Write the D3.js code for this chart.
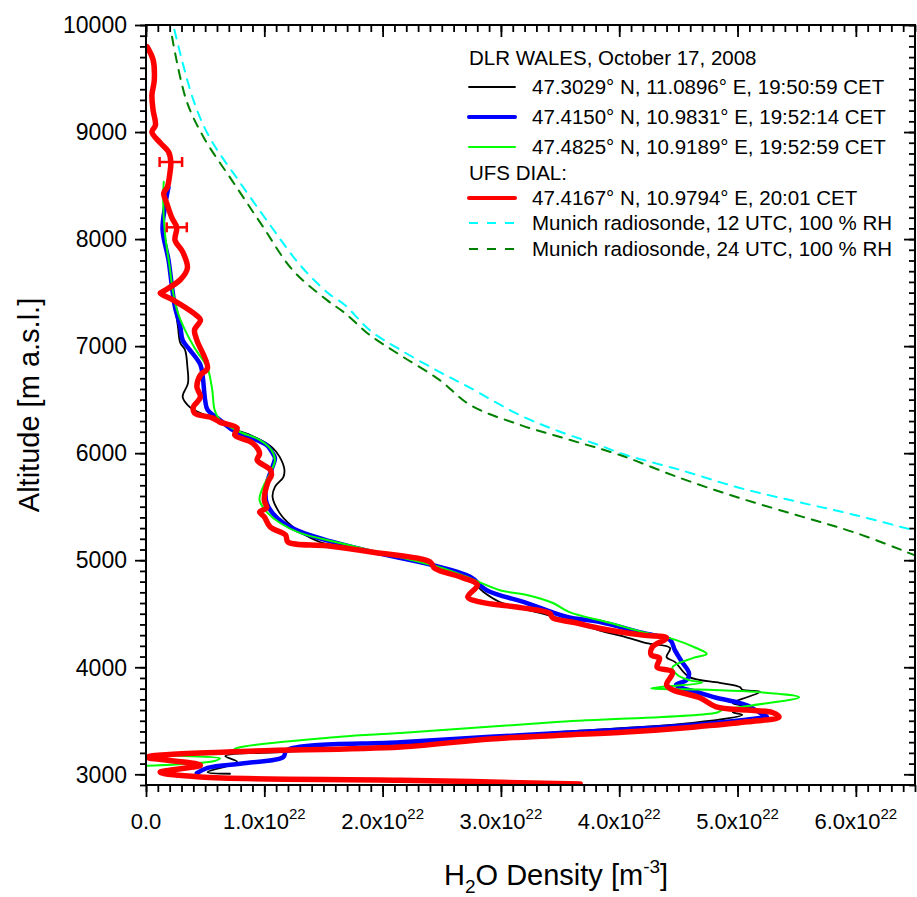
<!DOCTYPE html>
<html>
<head>
<meta charset="utf-8">
<script src="https://cdn.jsdelivr.net/npm/d3@7"></script>
<style>
  body { margin: 0; background: #fff; }
  svg { font-family: Arial, "Liberation Sans", sans-serif; }
</style>
</head>
<body>
<div id="chart-area"></div>
<script>

// H2O density in units of 1e22 m^-3, altitude in m a.s.l.
var wales1950 = [[0.18,8440],[0.15,8250],[0.15,8050],[0.19,7800],[0.23,7500],[0.27,7180],[0.29,7030],[0.33,6965],
  [0.35,6805],[0.355,6655],[0.31,6525],[0.37,6430],[0.46,6375],[0.60,6310],[0.71,6235],[0.88,6170],[1.07,6050],
  [1.13,5965],[1.17,5845],[1.16,5775],[1.09,5685],[1.07,5590],[1.13,5440],[1.20,5350],[1.30,5265],[1.47,5170],
  [1.92,5075],[2.42,4955],[2.74,4815],[2.85,4705],[2.99,4610],[3.39,4490],[3.61,4420],[3.83,4345],[4.06,4280],
  [4.23,4225],[4.43,4180],[4.40,4095],[4.47,4050],[4.59,3910],[4.85,3855],[5.02,3815],[5.04,3790],[5.19,3770],
  [5.08,3720],[4.96,3665],[5.08,3630],[4.96,3580],[5.04,3555],[4.62,3480],[3.50,3395],[2.91,3340],[1.92,3255],
  [1.19,3210],[0.67,3170],[0.77,3115],[0.52,3020],[0.71,3005]];

var wales1952a = [[0.19,8485],[0.16,8300],[0.14,8085],[0.19,7805],[0.22,7550],[0.245,7365],[0.29,7180],[0.31,7055],
  [0.37,6965],[0.46,6825],[0.48,6710],[0.50,6495],[0.52,6405],[0.625,6310],[0.735,6215],[0.88,6150],[1.02,6075],
  [1.07,6000],[1.09,5955],[1.06,5845],[1.03,5750],[1.01,5630],[1.02,5535],[1.07,5440],[1.16,5350],[1.33,5255],
  [1.58,5170],[1.92,5075],[2.42,4955],[2.74,4845],[2.88,4720],[3.22,4600],[3.56,4470],[3.83,4425],[4.20,4320],
  [4.43,4255],[4.47,4160],[4.53,4050],[4.59,3945],[4.57,3880],[4.48,3835],[4.68,3760],[4.82,3715],[4.99,3675],
  [5.08,3645],[5.19,3575],[5.25,3535],[5.19,3525],[4.62,3460],[3.50,3385],[2.91,3350],[2.15,3300],[1.19,3225],
  [1.16,3160],[0.85,3105],[0.52,3060],[0.43,3010]];

var wales1952b = [[0.15,8535],[0.145,8365],[0.16,8055],[0.20,7740],[0.23,7495],[0.27,7310],[0.33,7150],[0.41,6985],
  [0.44,6935],[0.52,6795],[0.56,6590],[0.58,6405],[0.625,6310],[0.79,6200],[0.96,6125],[1.06,6030],[1.09,5935],
  [1.05,5815],[0.99,5685],[0.96,5560],[1.03,5440],[1.13,5350],[1.30,5255],[1.64,5160],[2.06,5050],[2.48,4935],
  [2.71,4845],[2.99,4720],[3.22,4675],[3.44,4600],[3.58,4515],[3.92,4415],[4.23,4320],[4.45,4265],[4.65,4180],
  [4.74,4125],[4.62,4085],[4.45,4000],[4.49,3930],[4.59,3880],[4.70,3855],[4.27,3805],[4.75,3790],[5.16,3770],
  [5.52,3720],[5.13,3645],[4.87,3600],[4.82,3575],[3.50,3490],[2.15,3385],[1.64,3350],[0.77,3245],[0.71,3210],
  [0.15,3180],[0.625,3150],[0.58,3125],[0.01,3080]];

var dial = [[0.01,9795],[0.06,9675],[0.07,9485],[0.05,9345],[0.06,9205],[0.08,9065],[0.05,9000],[0.12,8900],
  [0.19,8815],[0.21,8720],[0.20,8600],[0.18,8485],[0.15,8430],[0.18,8320],[0.22,8195],[0.26,8110],[0.245,7990],
  [0.31,7880],[0.35,7730],[0.29,7620],[0.135,7505],[0.12,7495],[0.23,7430],[0.40,7310],[0.46,7245],[0.41,7150],
  [0.43,7055],[0.52,6795],[0.46,6730],[0.43,6620],[0.46,6525],[0.40,6430],[0.41,6375],[0.56,6330],[0.625,6290],
  [0.77,6235],[0.75,6170],[0.90,6095],[0.96,6000],[0.94,5935],[1.05,5845],[1.06,5795],[1.03,5730],[1.00,5560],
  [1.02,5490],[0.96,5450],[1.00,5405],[1.05,5310],[1.18,5235],[1.20,5170],[1.53,5135],[1.92,5075],[2.40,4985],
  [2.44,4925],[2.68,4835],[2.80,4770],[2.72,4655],[2.82,4610],[3.18,4555],[3.41,4505],[3.44,4460],[3.61,4420],
  [3.83,4365],[4.20,4300],[4.40,4275],[4.28,4190],[4.27,4115],[4.34,4085],[4.32,4000],[4.45,3955],[4.40,3835],
  [4.45,3790],[4.68,3715],[4.82,3630],[5.08,3600],[5.30,3575],[5.35,3535],[5.08,3490],[4.62,3440],[4.06,3395],
  [3.50,3365],[2.91,3330],[2.15,3255],[0.73,3210],[0.01,3160],[0.46,3085],[0.12,3020],[0.46,2975],[2.15,2945],
  [3.67,2910]];

// DIAL error bars: [density, altitude, half width]
var dialErr = [[0.21,8720,0.095],[0.26,8110,0.085]];

var sonde12 = [[0.24,9955],[0.40,9300],[0.54,8945],[0.79,8535],[1.05,8130],[1.30,7760],[1.54,7495],[1.68,7385],
  [1.89,7150],[2.15,6965],[2.48,6760],[2.74,6610],[3.16,6355],[3.50,6200],[3.83,6075],[4.05,5985],[4.51,5845],
  [5.02,5675],[5.55,5535],[6.00,5420],[6.49,5280],[6.6,5250]];

var sonde24 = [[0.22,9890],[0.34,9300],[0.49,8945],[0.735,8535],[0.98,8130],[1.24,7710],[1.53,7430],[1.68,7310],
  [1.89,7105],[2.15,6915],[2.48,6685],[2.74,6450],[3.16,6265],[3.58,6125],[4.00,5985],[4.51,5770],[5.02,5580],
  [5.55,5405],[6.00,5255],[6.49,5050],[6.6,5000]];

var xMajor = [0, 1, 2, 3, 4, 5, 6];
var yMajor = [3000, 4000, 5000, 6000, 7000, 8000, 9000, 10000];

var legendTitle1 = "DLR WALES, October 17, 2008";
var legendTitle2 = "UFS DIAL:";
var legendLabels = [
  "47.3029° N, 11.0896° E, 19:50:59 CET",
  "47.4150° N, 10.9831° E, 19:52:14 CET",
  "47.4825° N, 10.9189° E, 19:52:59 CET",
  "47.4167° N, 10.9794° E, 20:01 CET",
  "Munich radiosonde, 12 UTC, 100 % RH",
  "Munich radiosonde, 24 UTC, 100 % RH"
];

var margin = {top: 25, right: 2, bottom: 112, left: 146},
    width = 917 - margin.left - margin.right,
    height = 897 - margin.top - margin.bottom;

var svg = d3.select("#chart-area")
    .append("svg")
        .attr("width", 917)
        .attr("height", 897);

svg.append("rect").attr("width", 917).attr("height", 897).attr("fill", "#fff");

var g = svg.append("g")
        .attr("transform", "translate(" + margin.left + "," + margin.top + ")");

var xScale = d3.scaleLinear().domain([0, 6.5]).range([0, width]);
var yScale = d3.scaleLinear().domain([2900, 10000]).range([height, 0]);

g.append("clipPath").attr("id", "plot-clip")
  .append("rect").attr("width", width).attr("height", height);

var xMinor = d3.range(0, 66).map(function(i) { return i / 10; });
var yMinor = d3.range(29, 101).map(function(i) { return i * 100; });

function styleAxis(sel) {
  sel.select(".domain").remove();
  sel.selectAll(".tick line").attr("stroke", "#000").attr("stroke-width", 1.8);
}

// bottom
g.append("g").attr("transform", "translate(0," + height + ")")
  .call(d3.axisBottom(xScale).tickValues(xMinor).tickSize(7).tickFormat(""))
  .call(styleAxis);
g.append("g").attr("transform", "translate(0," + height + ")")
  .call(d3.axisBottom(xScale).tickValues(xMajor).tickSize(12).tickFormat(""))
  .call(styleAxis);
// top (inward)
g.append("g").call(d3.axisBottom(xScale).tickValues(xMinor).tickSize(7).tickFormat("")).call(styleAxis);
g.append("g").call(d3.axisBottom(xScale).tickValues(xMajor).tickSize(12).tickFormat("")).call(styleAxis);
// left
g.append("g").call(d3.axisLeft(yScale).tickValues(yMinor).tickSize(6).tickFormat("")).call(styleAxis);
g.append("g").call(d3.axisLeft(yScale).tickValues(yMajor).tickSize(11).tickFormat("")).call(styleAxis);
// right (inward)
g.append("g").attr("transform", "translate(" + width + ",0)")
  .call(d3.axisLeft(yScale).tickValues(yMinor).tickSize(6).tickFormat("")).call(styleAxis);
g.append("g").attr("transform", "translate(" + width + ",0)")
  .call(d3.axisLeft(yScale).tickValues(yMajor).tickSize(11).tickFormat("")).call(styleAxis);

// tick labels
g.selectAll(".ylab").data(yMajor).enter().append("text")
  .attr("x", -19).attr("y", function(d) { return yScale(d); })
  .attr("dy", "0.36em").attr("text-anchor", "end")
  .attr("font-size", 23).text(function(d) { return d; });

var xl = g.selectAll(".xlab").data(xMajor).enter().append("text")
  .attr("x", function(d) { return xScale(d); }).attr("y", height + 44)
  .attr("text-anchor", "middle").attr("font-size", 22);
xl.each(function(d) {
  var t = d3.select(this);
  if (d === 0) { t.text("0.0"); return; }
  t.append("tspan").text(d.toFixed(1) + "x10");
  t.append("tspan").attr("font-size", 15).attr("dy", -10).text("22");
});

// axis titles
var xt = svg.append("text").attr("x", margin.left + xScale(3.5) - 4).attr("y", 885)
  .attr("text-anchor", "middle").attr("font-size", 29);
xt.append("tspan").text("H");
xt.append("tspan").attr("font-size", 19).attr("dy", 8).text("2");
xt.append("tspan").attr("dy", -8).text("O Density [m");
xt.append("tspan").attr("font-size", 19).attr("dy", -12).text("-3");
xt.append("tspan").attr("dy", 12).text("]");

svg.append("text")
  .attr("transform", "translate(39," + (margin.top + height / 2) + ") rotate(-90)")
  .attr("text-anchor", "middle").attr("font-size", 29)
  .text("Altitude [m a.s.l.]");

// lines
var line = d3.line()
  .x(function(d) { return xScale(d[0]); })
  .y(function(d) { return yScale(d[1]); })
  .curve(d3.curveCatmullRom.alpha(0.5));

var plot = g.append("g").attr("clip-path", "url(#plot-clip)");

var series = [
  {data: sonde12, color: "#00ffff", w: 2, dash: "9,8"},
  {data: sonde24, color: "#008000", w: 2, dash: "9,8"},
  {data: wales1950, color: "#000000", w: 1.8},
  {data: wales1952a, color: "#0000ff", w: 4.5},
  {data: wales1952b, color: "#00ff00", w: 2},
  {data: dial, color: "#ff0000", w: 5.5}
];

plot.selectAll(".series").data(series).enter().append("path")
  .attr("d", function(s) { return line(s.data); })
  .attr("fill", "none")
  .attr("stroke", function(s) { return s.color; })
  .attr("stroke-width", function(s) { return s.w; })
  .attr("stroke-dasharray", function(s) { return s.dash || null; })
  .attr("stroke-linejoin", "round")
  .attr("stroke-linecap", "round");

// DIAL error bars
var eb = plot.selectAll(".err").data(dialErr).enter().append("g").attr("stroke", "#ff0000").attr("stroke-width", 2.5);
eb.append("line")
  .attr("x1", function(d) { return xScale(d[0] - d[2]); }).attr("x2", function(d) { return xScale(d[0] + d[2]); })
  .attr("y1", function(d) { return yScale(d[1]); }).attr("y2", function(d) { return yScale(d[1]); });
eb.selectAll(".cap").data(function(d) { return [[d[0] - d[2], d[1]], [d[0] + d[2], d[1]]]; })
  .enter().append("line")
  .attr("x1", function(d) { return xScale(d[0]); }).attr("x2", function(d) { return xScale(d[0]); })
  .attr("y1", function(d) { return yScale(d[1]) - 5; }).attr("y2", function(d) { return yScale(d[1]) + 5; });

// frame
g.append("rect").attr("width", width).attr("height", height)
  .attr("fill", "none").attr("stroke", "#000").attr("stroke-width", 2);

// legend
var lg = svg.append("g").attr("font-size", 20.5);
lg.append("text").attr("x", 469).attr("y", 65).text(legendTitle1);
lg.append("text").attr("x", 469).attr("y", 180).text(legendTitle2);
var legendRows = [87, 117, 147, 198, 223, 249];
var legendSeries = [series[2], series[3], series[4], series[5], series[0], series[1]];
legendLabels.forEach(function(lab, i) {
  var s = legendSeries[i];
  lg.append("line").attr("x1", 469).attr("x2", 515)
    .attr("y1", legendRows[i]).attr("y2", legendRows[i])
    .attr("stroke", s.color).attr("stroke-width", Math.min(s.w, 4))
    .attr("stroke-linecap", s.dash ? "butt" : "round")
    .attr("stroke-dasharray", s.dash ? "9,9" : null);
  lg.append("text").attr("x", 532).attr("y", legendRows[i] + 7).text(lab);
});

</script>
</body>
</html>
